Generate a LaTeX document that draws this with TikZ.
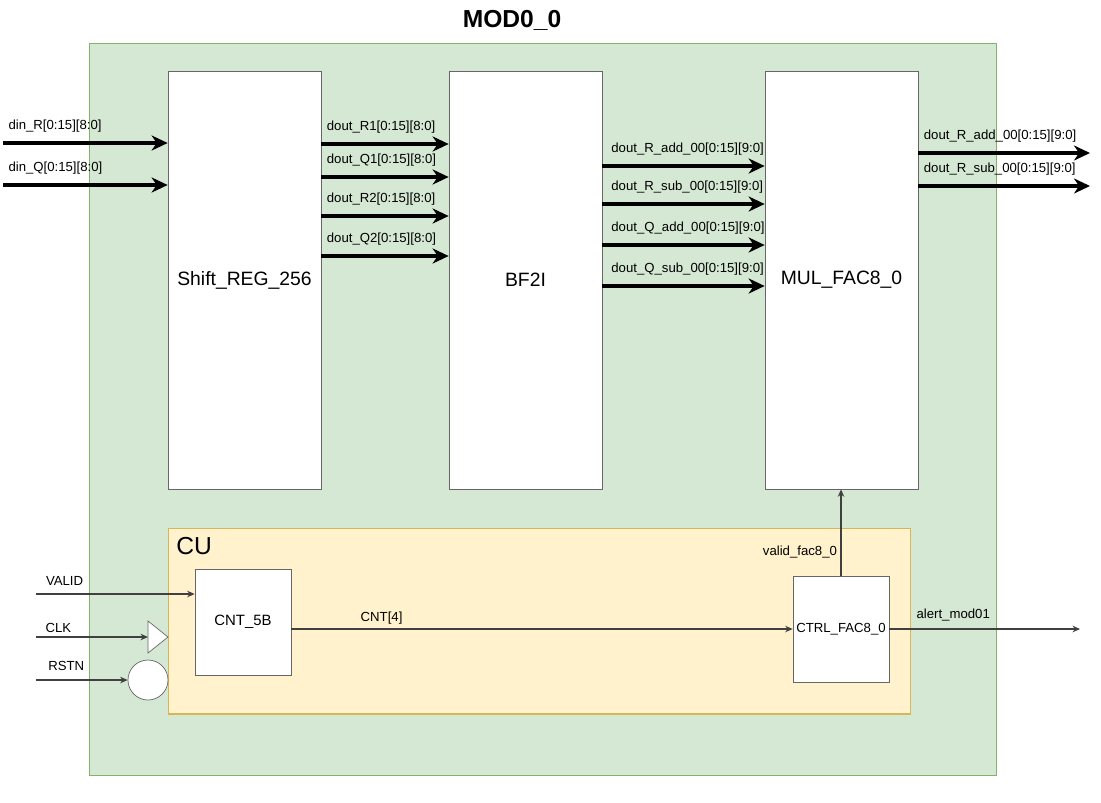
\documentclass[tikz,border=0pt]{standalone}
\usepackage{fontspec}
\setmainfont{Liberation Sans}
\usetikzlibrary{arrows.meta}

\definecolor{modfill}{HTML}{D5E8D4}
\definecolor{modline}{HTML}{82B366}
\definecolor{cufill}{HTML}{FFF2CC}
\definecolor{culine}{HTML}{D6B656}

\begin{document}
\begin{tikzpicture}[x=0.02cm,y=-0.02cm]

      \useasboundingbox (0,0) rectangle (1101,802);

      \node[draw=modline, line width=0.6pt, fill=modfill, minimum width=18.16cm, minimum height=14.66cm] (mod) at (543,409.5) {};
      \node[font=\bfseries\fontsize{14}{16}\selectfont] (title) at (512,20) {MOD0\_0};
      \node[draw=culine, line width=0.6pt, fill=cufill, minimum width=14.86cm, minimum height=3.72cm] (cu) at (539.5,621) {};
      \node[font=\fontsize{14}{16}\selectfont, anchor=west, inner sep=0pt] (cuname) at (176,546) {CU};

      \begin{scope}[every node/.style={draw=black!60, fill=white, minimum width=3.06cm, minimum height=8.36cm, font=\fontsize{11}{13}\selectfont}]
        \node (shift) at (244.5,280) {Shift\_REG\_256};
        \node (bf2i) at (525.5,280) {BF2I};
        \node (mul) at (841.5,280) {MUL\_FAC8\_0};
      \end{scope}

      \begin{scope}[every node/.style={draw=black!60, fill=white, inner sep=0pt, minimum width=1.92cm, minimum height=2.12cm}]
        \node[font=\fontsize{8.5}{10}\selectfont] (cnt) at (243,622) {CNT\_5B};
        \node[font=\fontsize{7.5}{9}\selectfont] (ctrl) at (841,629) {CTRL\_FAC8\_0};
      \end{scope}

      \draw[black!60, fill=white] (148,621) -- (168,637) -- (148,653) -- cycle;
      \coordinate (clkin) at (148,637);
      \node[circle, draw=black!60, fill=white, inner sep=0pt, minimum size=0.8cm] (rstin) at (148,680) {};

      \coordinate (dinR) at (3,143);
      \coordinate (dinQ) at (3,185);
      \coordinate (r1) at (0,144);
      \coordinate (q1) at (0,177);
      \coordinate (r2) at (0,216);
      \coordinate (q2) at (0,256);
      \coordinate (radd) at (0,166);
      \coordinate (rsub) at (0,204);
      \coordinate (qadd) at (0,245);
      \coordinate (qsub) at (0,286);
      \coordinate (outadd) at (1090,153);
      \coordinate (outsub) at (1090,186);
      \coordinate (valid) at (36,594);
      \coordinate (clk) at (36,637);
      \coordinate (rstn) at (36,680);
      \coordinate (alert) at (1080,629);

      \begin{scope}[every node/.style={font=\fontsize{7.5}{9}\selectfont, text=black, inner sep=0pt, pos=0, anchor=south west, xshift=2pt, yshift=5pt}]

        \begin{scope}[every edge/.style={draw, line width=2.3pt, -{Stealth[length=3.2mm,width=3mm,inset=1mm]}}]
          \path (dinR) edge node {din\_R[0:15][8:0]} (dinR -| shift.west);
          \path (dinQ) edge node {din\_Q[0:15][8:0]} (dinQ -| shift.west);
          \path (shift.east |- r1) edge node {dout\_R1[0:15][8:0]} (bf2i.west |- r1);
          \path (shift.east |- q1) edge node {dout\_Q1[0:15][8:0]} (bf2i.west |- q1);
          \path (shift.east |- r2) edge node {dout\_R2[0:15][8:0]} (bf2i.west |- r2);
          \path (shift.east |- q2) edge node {dout\_Q2[0:15][8:0]} (bf2i.west |- q2);
          \path (bf2i.east |- radd) edge node[xshift=2pt] {dout\_R\_add\_00[0:15][9:0]} (mul.west |- radd);
          \path (bf2i.east |- rsub) edge node[xshift=2pt] {dout\_R\_sub\_00[0:15][9:0]} (mul.west |- rsub);
          \path (bf2i.east |- qadd) edge node[xshift=2pt] {dout\_Q\_add\_00[0:15][9:0]} (mul.west |- qadd);
          \path (bf2i.east |- qsub) edge node[xshift=2pt] {dout\_Q\_sub\_00[0:15][9:0]} (mul.west |- qsub);
          \path (mul.east |- outadd) edge node {dout\_R\_add\_00[0:15][9:0]} (outadd);
          \path (mul.east |- outsub) edge node {dout\_R\_sub\_00[0:15][9:0]} (outsub);
        \end{scope}

        \begin{scope}[every edge/.style={draw, black!75, line width=0.6pt, -{Stealth[length=1.5mm,width=1.3mm]}}]
          \path (valid) edge node[pos=0.18, anchor=south, xshift=-2pt, yshift=-0.3pt] {VALID} (valid -| cnt.west);
          \path (clk) edge node[pos=0.2, anchor=south, xshift=-2pt, yshift=-2.6pt] {CLK} (clkin);
          \path (rstn) edge node[pos=0.33, anchor=south, xshift=-2pt, yshift=0.3pt] {RSTN} (rstin.west);
          \path (cnt.east |- ctrl.west) edge node[pos=0.18, anchor=south, xshift=-2pt, yshift=-2.5pt] {CNT[4]} (ctrl.west);
          \path (ctrl.east) edge node[pos=0.335, anchor=south, xshift=-2pt, yshift=-1pt] {alert\_mod01} (alert);
          \path (ctrl.north) edge node[anchor=south east, xshift=-4pt, yshift=4.7pt] {valid\_fac8\_0} (ctrl.north |- mul.south);
        \end{scope}

      \end{scope}

    \end{tikzpicture}
\end{document}
